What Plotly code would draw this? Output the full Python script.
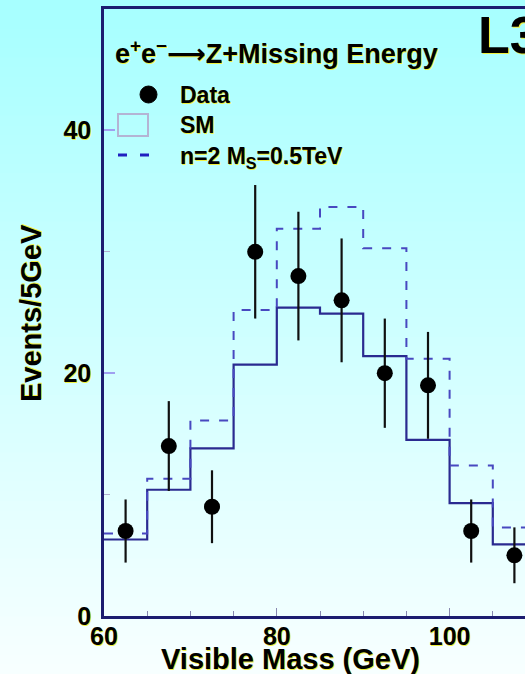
import plotly.graph_objects as go

# ---------------- data ----------------
bin_edges = [60, 65, 70, 75, 80, 85, 90, 95, 100, 105, 110]
bin_centers = [62.5, 67.5, 72.5, 77.5, 82.5, 87.5, 92.5, 97.5, 102.5, 107.5]
data_counts = [7, 14, 9, 30, 28, 26, 20, 19, 7, 5]
data_err_up = [2.6, 3.7, 3.0, 5.5, 5.3, 5.1, 4.5, 4.4, 2.6, 2.3]
data_err_down = [2.6, 3.7, 3.0, 5.5, 5.3, 5.1, 4.5, 4.4, 2.6, 2.3]
sm_counts = [6.3, 10.4, 13.8, 20.7, 25.4, 24.9, 21.4, 14.5, 9.3, 5.9]
signal_counts = [6.8, 11.3, 16.1, 25.2, 31.9, 33.7, 30.3, 21.2, 12.4, 7.3]
x_tick_vals = [60, 80, 100]
y_tick_vals = [0, 20, 40]

# ---------------- geometry helpers (pixels -> paper) ----------------
W, H = 525, 674
L, T, B = 104, 9, 616
PW, PH = W - L, B - T


def px(x):
    return (x - L) / PW


def py(y):
    return (B - y) / PH


FONT = "Liberation Sans, Arial, DejaVu Sans, sans-serif"
SHADOW = "1px 1px 0px #f0f040"
NAVY = "#1c1c70"

fig = go.Figure()

# SM histogram (solid)
fig.add_trace(go.Scatter(
    x=bin_edges, y=sm_counts + [sm_counts[-1]], mode="lines",
    line=dict(shape="hv", color="#2a2a90", width=2.2),
    showlegend=False, hoverinfo="skip"))

# signal histogram (dashed)
fig.add_trace(go.Scatter(
    x=bin_edges, y=signal_counts + [signal_counts[-1]], mode="lines",
    line=dict(shape="hv", color="#4848c0", width=2, dash="9px,10px"),
    showlegend=False, hoverinfo="skip"))

# data points
fig.add_trace(go.Scatter(
    x=bin_centers, y=data_counts, mode="markers",
    marker=dict(color="black", size=16),
    error_y=dict(type="data", symmetric=False, array=data_err_up,
                 arrayminus=data_err_down, color="#101010", thickness=2.2, width=0),
    showlegend=False, hoverinfo="skip"))

# ---------------- background gradient ----------------
shapes = []
n_bands = 70
top_col = (166, 255, 255)
bot_col = (248, 255, 255)
for i in range(n_bands):
    t0 = i / n_bands
    t1 = (i + 1) / n_bands
    c = tuple(int(round(top_col[k] + (bot_col[k] - top_col[k]) * (t0 + 0.5 / n_bands))) for k in range(3))
    shapes.append(dict(
        type="rect", xref="paper", yref="paper", layer="below",
        x0=px(-5), x1=px(W + 5), y0=py(H * t1 + 1), y1=py(H * t0),
        fillcolor="rgb(%d,%d,%d)" % c, line=dict(width=0)))

# legend symbols
shapes.append(dict(type="circle", xref="paper", yref="paper",
                   x0=px(140), x1=px(157), y0=py(103), y1=py(86),
                   fillcolor="black", line=dict(color="black", width=1)))
shapes.append(dict(type="rect", xref="paper", yref="paper",
                   x0=px(118), x1=px(148), y0=py(136), y1=py(114),
                   fillcolor="rgba(0,0,0,0)", line=dict(color="#b4b4d4", width=2)))
for a, b in [(118, 127), (140, 149)]:
    shapes.append(dict(type="line", xref="paper", yref="paper",
                       x0=px(a), x1=px(b), y0=py(155), y1=py(155),
                       line=dict(color="#2020c0", width=3)))

annotations = []


def ann(text, x, y, size, xanchor="left", yanchor="middle", angle=0):
    annotations.append(dict(
        text=text, xref="paper", yref="paper", x=px(x), y=py(y),
        xanchor=xanchor, yanchor=yanchor, showarrow=False, textangle=angle,
        font=dict(family=FONT, size=size, color="black", weight="bold", shadow=SHADOW)))


ann("e<sup>+</sup>e<sup>\u2212</sup>\u27f6Z+Missing Energy", 113, 52, 27)
ann("Data", 178, 95, 23)
ann("SM", 178, 125, 23)
ann("n=2 M<sub>S</sub>=0.5TeV", 178, 157, 23)
ann("L3", 476, 35, 52)
ann("Visible Mass (GeV)", 290, 659, 29, xanchor="center")
ann("Events/5GeV", 31, 313, 29, xanchor="center", angle=-90)

fig.update_layout(
    width=W, height=H,
    margin=dict(l=L, r=0, t=T, b=H - B, pad=0),
    paper_bgcolor="white", plot_bgcolor="rgba(0,0,0,0)",
    shapes=shapes, annotations=annotations,
    showlegend=False,
    xaxis=dict(
        range=[60, 60 + PW / 8.64], showgrid=False, zeroline=False,
        showline=True, linecolor=NAVY, linewidth=2.5, mirror=True,
        ticks="inside", ticklen=8, tickwidth=1.2, tickcolor="#8888b0",
        tickvals=x_tick_vals, ticktext=[str(v) for v in x_tick_vals],
        minor=dict(ticks="inside", ticklen=5, dtick=5, tickcolor="#8888b0", tickwidth=1),
        tickfont=dict(family=FONT, size=25, color="black", weight="bold", shadow=SHADOW),
        ticklabelstandoff=-4,
    ),
    yaxis=dict(
        range=[0, 50], showgrid=False, zeroline=False,
        showline=True, linecolor=NAVY, linewidth=2.5,
        ticks="inside", ticklen=11, tickwidth=1.5, tickcolor="#a0a0f0",
        tickvals=y_tick_vals, ticktext=[str(v) for v in y_tick_vals],
        minor=dict(ticks="inside", ticklen=6, dtick=10, tickcolor="#b0b0d0", tickwidth=1),
        tickfont=dict(family=FONT, size=25, color="black", weight="bold", shadow=SHADOW),
        ticklabelstandoff=5,
    ),
)

fig.write_html(
    "out.html",
    config={"displayModeBar": False},
    post_script="document.body.style.margin='0';document.body.style.overflow='hidden';",
)
